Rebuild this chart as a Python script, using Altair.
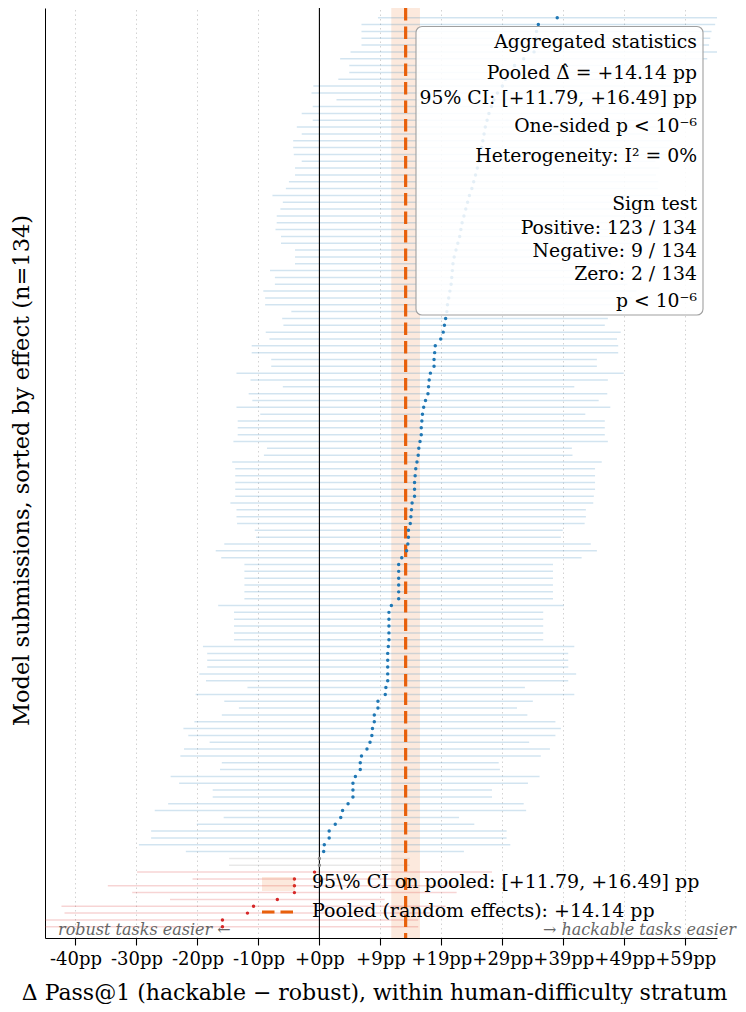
import altair as alt
import pandas as pd

# ---- data (sorted by effect, largest first) ----
EFFECT = [39.0, 35.9, 35.6, 35.5, 35.4, 35.2, 33.5, 32.0, 31.0, 30.5, 30.0, 29.2, 28.6, 28.2, 27.8,
          27.5, 27.2, 27.0, 26.8, 26.6, 26.3, 26.1, 25.9, 25.6, 25.3, 25.0, 24.6, 24.3, 24.0, 23.7,
          23.4, 23.2, 23.0, 22.7, 22.4, 22.1, 21.9, 21.8, 21.7, 21.6, 21.4, 21.2, 21.0,
          20.9, 20.7, 20.5, 20.3, 19.9, 19.0, 18.9, 18.8, 18.8, 18.2, 18.0, 17.9, 17.8, 17.4, 17.1,
          16.9, 16.8, 16.7, 16.7, 16.5, 16.3, 16.2, 16.0,
          15.8, 15.7, 15.6, 15.6, 15.6, 15.2, 15.1, 15.0, 14.9, 14.6, 14.6, 14.5, 14.3, 13.5, 13.0,
          13.0, 13.0, 13.0, 13.0, 13.0, 11.8, 11.4, 11.4,
          11.4, 11.4, 11.4, 11.3, 11.2, 11.2, 11.2, 11.2, 11.2, 10.9, 10.8, 9.6, 9.6, 9.0, 9.0, 8.7,
          8.6, 8.3, 7.8, 6.9, 6.7, 6.7, 5.9,
          5.5, 5.5, 5.5, 4.7, 3.8, 3.5, 2.6, 1.6, 1.6, 0.8, 0.7, 0.0, 0.0, -0.8, -4.1, -4.1, -4.1,
          -6.9, -10.8, -11.8, -15.9, -15.9]
CI_LO = [9.6, 6.9, 6.9, 6.9, 6.9, 5.1, 3.4, 4.9, 4.9, 3.1, -1.0, -1.3, 2.8, -1.1, -2.9, -1.1, -3.7,
         -2.9, -4.3, -4.3, -4.2, -2.9, -4.0, -4.0, -5.0, -5.5, -7.7, -6.0, -6.4, -7.0, -7.0, -7.2,
         -6.3, -6.3, -4.0, -4.0, -4.0, -8.1, -7.3, -7.3, -9.2, -8.9, -8.9,
         -4.6, -6.1, -5.9, -8.8, -8.2, -11.1, -11.1, -7.9, -7.9, -13.6, -11.3, -6.0, -11.6, -11.0,
         -13.6, -9.7, -13.4, -13.4, -13.4, -14.1, -8.6, -9.1, -14.3,
         -13.8, -13.8, -13.8, -13.8, -13.8, -14.6, -13.6, -13.6, -13.5, -10.6, -10.4, -15.6, -17.0,
         -16.1, -12.3, -12.3, -12.3, -12.3, -12.3, -12.3, -16.6, -14.0, -14.0,
         -14.0, -14.0, -14.0, -19.1, -18.4, -18.4, -18.4, -19.7, -18.6, -11.8, -20.3, -15.6, -13.2,
         -16.0, -20.5, -22.3, -21.5, -18.0, -22.2, -22.8, -16.0, -16.3, -24.4,
         -23.0, -17.5, -17.5, -24.8, -27.0, -15.7, -20.1, -27.6, -27.6, -29.6, -21.9, -14.8, -14.8,
         -29.9, -20.8, -34.7, -30.7, -24.5, -42.3, -41.8, -48.0, -48.0]
CI_HI = [68.4, 64.9, 64.3, 64.1, 63.9, 65.3, 63.6, 59.1, 57.1, 57.9, 61.0, 59.7, 54.4, 57.5, 58.5,
         56.1, 58.1, 56.9, 57.9, 57.5, 56.8, 55.1, 55.8, 55.2, 55.6, 55.5, 56.9, 54.6, 54.4, 54.4,
         53.8, 53.6, 52.3, 51.7, 48.8, 48.2, 47.8, 51.7, 50.7, 50.5, 52.0, 51.3, 50.9,
         46.4, 47.3, 46.8, 49.4, 48.8, 49.0, 49.0, 45.5, 45.5, 49.9, 47.3, 41.8, 47.2, 45.8, 47.7,
         43.6, 46.8, 46.8, 46.8, 47.3, 41.4, 41.5, 46.3,
         45.2, 45.2, 45.2, 45.2, 45.0, 44.9, 43.7, 43.7, 43.5, 39.9, 39.6, 44.5, 45.5, 43.0, 38.3,
         38.3, 38.3, 38.3, 38.3, 38.3, 40.1, 36.7, 36.7,
         36.7, 36.7, 36.7, 41.8, 40.8, 40.8, 40.8, 42.1, 40.8, 33.7, 41.8, 35.0, 32.4, 34.1, 38.7,
         39.6, 38.7, 34.4, 37.8, 36.3, 29.4, 29.6, 36.1,
         34.2, 28.3, 28.3, 33.5, 33.9, 22.9, 25.4, 30.7, 30.7, 31.3, 23.7, 14.8, 14.8, 28.3, 12.6,
         26.5, 22.5, 10.7, 20.7, 18.2, 16.2, 16.2]

POOLED = 14.14
POOLED_LO = 11.79
POOLED_HI = 16.49

TICK_VALUES = [-40, -30, -20, -10, 0, 10, 20, 30, 40, 50, 60]
TICK_LABELS = ["-40pp", "-30pp", "-20pp", "-10pp", "+0pp", "+9pp", "+19pp", "+29pp", "+39pp",
               "+49pp", "+59pp"]

BOX_LINES = ["Aggregated statistics",
             "Pooled \u0394\u0302 = +14.14 pp",
             "95% CI: [+11.79, +16.49] pp",
             "One-sided p < 10\u207b\u2076",
             "Heterogeneity: I\u00b2 = 0%",
             "Sign test",
             "Positive: 123 / 134",
             "Negative: 9 / 134",
             "Zero: 2 / 134",
             "p < 10\u207b\u2076"]
BOX_LINE_Y = [39.5, 70.5, 95.5, 123.5, 154, 202, 226, 248.5, 271.5, 298.5]

LEGEND_LABELS = ["95\\% CI on pooled: [+11.79, +16.49] pp",
                 "Pooled (random effects): +14.14 pp"]

N = len(EFFECT)
df = pd.DataFrame({
    "rank": list(range(1, N + 1)),
    "effect": EFFECT,
    "lo": CI_LO,
    "hi": CI_HI,
})
df["sign"] = ["pos" if v > 0 else ("neg" if v < 0 else "zero") for v in EFFECT]

W, H = 672, 930
FONT = "DejaVu Serif"
SIGN_DOMAIN = ["pos", "zero", "neg"]
SIGN_COLORS = ["#1f77b4", "#8c8c8c", "#d62728"]

label_expr = ("[" + ",".join("'%s'" % s for s in TICK_LABELS) + "][indexof(["
              + ",".join(str(v) for v in TICK_VALUES) + "], datum.value)]")

xscale = alt.Scale(domain=[-45, 65.2], nice=False, zero=False)
yscale = alt.Scale(domain=[-0.42, 135.64], reverse=True, nice=False, zero=False)

xaxis = alt.Axis(values=TICK_VALUES, labelExpr=label_expr, title=
                 "\u0394 Pass@1 (hackable \u2212 robust), within human-difficulty stratum",
                 grid=True, gridDash=[1.5, 3], gridColor="#c8c8c8", gridWidth=0.8,
                 domainColor="#000000", domainWidth=1.2, tickColor="#000000", tickSize=7,
                 tickWidth=1.1, labelFont=FONT, labelFontSize=18, labelColor="#000000",
                 labelPadding=5, labelOverlap=False, labelFlush=False, labelBound=False,
                 titleFont=FONT, titleFontSize=22, titleFontWeight="normal",
                 titleColor="#000000", titleX=329, titleAlign="center", titleY=61,
                 titleBaseline="alphabetic")
yaxis = alt.Axis(title="Model submissions, sorted by effect (n=134)", labels=False, ticks=False,
                 grid=False, domainColor="#000000", domainWidth=1.0, titleFont=FONT,
                 titleFontSize=22.5, titleFontWeight="normal", titleColor="#000000",
                 titleX=-17, titleY=462, titleBaseline="alphabetic")

base = alt.Chart(df)

color_enc = alt.Color("sign:N", scale=alt.Scale(domain=SIGN_DOMAIN, range=SIGN_COLORS),
                      legend=None)

ci = base.mark_rule(strokeWidth=1.5, opacity=0.2, clip=True).encode(
    x=alt.X("lo:Q", scale=xscale, axis=xaxis),
    x2="hi:Q",
    y=alt.Y("rank:Q", scale=yscale, axis=yaxis),
    color=color_enc,
)

band_df = pd.DataFrame({"lo": [POOLED_LO], "hi": [POOLED_HI], "mid": [POOLED]})
band = alt.Chart(band_df).mark_rect(color="#e8600c", opacity=0.14).encode(
    x=alt.X("lo:Q", scale=xscale), x2="hi:Q", y=alt.value(0), y2=alt.value(H))

zero_df = pd.DataFrame({"x": [0.0]})
zero_line = alt.Chart(zero_df).mark_rule(color="#000000", strokeWidth=1.1).encode(
    x=alt.X("x:Q", scale=xscale))

pooled_line = alt.Chart(band_df).mark_rule(color="#e8600c", strokeWidth=3.2,
                                            strokeDash=[12.5, 6]).encode(
    x=alt.X("mid:Q", scale=xscale))

points = base.mark_circle(size=12, opacity=1).encode(
    x=alt.X("effect:Q", scale=xscale),
    y=alt.Y("rank:Q", scale=yscale),
    color=color_enc,
)

anchor = pd.DataFrame({"a": [0]})
box = alt.Chart(anchor).mark_rect(fill="#ffffff", fillOpacity=0.88, stroke="#a0a0a0",
                                  strokeWidth=1.1, cornerRadius=6).encode(
    x=alt.value(371), x2=alt.value(658), y=alt.value(18.5), y2=alt.value(307))

box_texts = []
for txt, yy in zip(BOX_LINES, BOX_LINE_Y):
    box_texts.append(alt.Chart(anchor).mark_text(
        text=txt, font=FONT, fontSize=18.8, align="right", baseline="alphabetic",
        color="#000000").encode(x=alt.value(652), y=alt.value(yy)))

leg_rect = alt.Chart(anchor).mark_rect(color="#e8600c", opacity=0.14).encode(
    x=alt.value(217), x2=alt.value(250), y=alt.value(869), y2=alt.value(883))
leg_dash = alt.Chart(anchor).mark_rule(color="#e8600c", strokeWidth=3.2,
                                       strokeDash=[12.5, 6]).encode(
    x=alt.value(217), x2=alt.value(250), y=alt.value(904))
leg_t1 = alt.Chart(anchor).mark_text(text=LEGEND_LABELS[0], font=FONT, fontSize=19, align="left",
                                     baseline="alphabetic", color="#000000").encode(
    x=alt.value(267), y=alt.value(880))
leg_t2 = alt.Chart(anchor).mark_text(text=LEGEND_LABELS[1], font=FONT, fontSize=19, align="left",
                                     baseline="alphabetic", color="#000000").encode(
    x=alt.value(267), y=alt.value(909))

ann_left = alt.Chart(anchor).mark_text(text="robust tasks easier \u2190", font=FONT, fontSize=16,
                                       fontStyle="italic", align="left", baseline="alphabetic",
                                       color="#666666").encode(x=alt.value(13), y=alt.value(927))
ann_right = alt.Chart(anchor).mark_text(text="\u2192 hackable tasks easier", font=FONT,
                                        fontSize=16, fontStyle="italic", align="right",
                                        baseline="alphabetic",
                                        color="#666666").encode(x=alt.value(691), y=alt.value(927))

chart = alt.layer(
    band, ci, zero_line, pooled_line, points, box, *box_texts,
    leg_rect, leg_dash, leg_t1, leg_t2, ann_left, ann_right
).properties(
    width=W, height=H,
    autosize=alt.AutoSizeParams(type="none"),
    padding={"left": 37, "top": 0, "right": 21, "bottom": 66},
).configure_view(strokeWidth=0)

chart.save("out.html", embed_options={"renderer": "svg", "actions": False})
